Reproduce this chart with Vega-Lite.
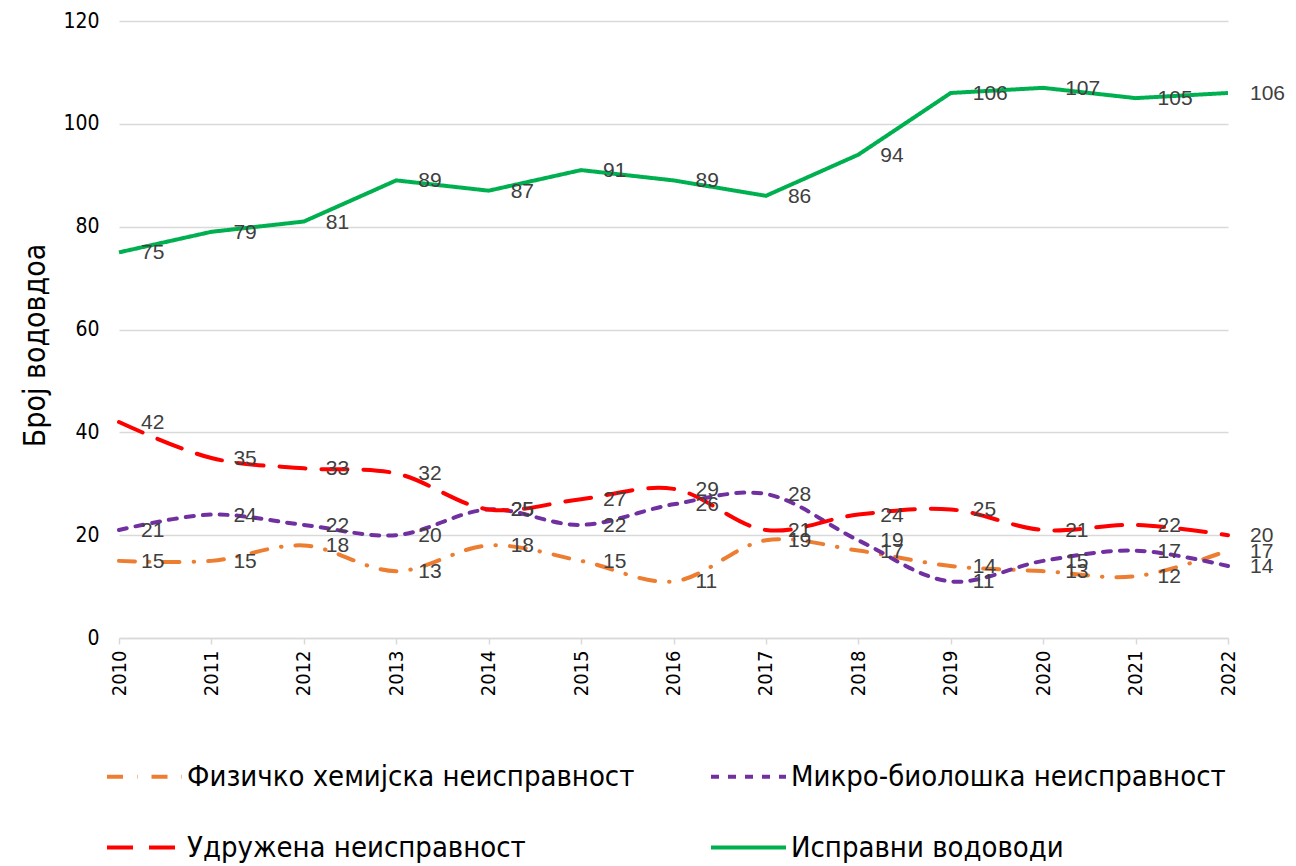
{
  "$schema": "https://vega.github.io/schema/vega-lite/v6.json",
  "autosize": {"type": "none"},
  "width": 1109,
  "height": 617,
  "padding": {"left": 119, "top": 21, "right": 68, "bottom": 228},
  "background": "white",
  "config": {"view": {"stroke": null}},
  "data": {"values": [
    {"year": "2010", "s": "Физичко хемијска неисправност", "v": 15},
    {"year": "2011", "s": "Физичко хемијска неисправност", "v": 15},
    {"year": "2012", "s": "Физичко хемијска неисправност", "v": 18},
    {"year": "2013", "s": "Физичко хемијска неисправност", "v": 13},
    {"year": "2014", "s": "Физичко хемијска неисправност", "v": 18},
    {"year": "2015", "s": "Физичко хемијска неисправност", "v": 15},
    {"year": "2016", "s": "Физичко хемијска неисправност", "v": 11},
    {"year": "2017", "s": "Физичко хемијска неисправност", "v": 19},
    {"year": "2018", "s": "Физичко хемијска неисправност", "v": 17},
    {"year": "2019", "s": "Физичко хемијска неисправност", "v": 14},
    {"year": "2020", "s": "Физичко хемијска неисправност", "v": 13},
    {"year": "2021", "s": "Физичко хемијска неисправност", "v": 12},
    {"year": "2022", "s": "Физичко хемијска неисправност", "v": 17},
    {"year": "2010", "s": "Микро-биолошка неисправност", "v": 21},
    {"year": "2011", "s": "Микро-биолошка неисправност", "v": 24},
    {"year": "2012", "s": "Микро-биолошка неисправност", "v": 22},
    {"year": "2013", "s": "Микро-биолошка неисправност", "v": 20},
    {"year": "2014", "s": "Микро-биолошка неисправност", "v": 25},
    {"year": "2015", "s": "Микро-биолошка неисправност", "v": 22},
    {"year": "2016", "s": "Микро-биолошка неисправност", "v": 26},
    {"year": "2017", "s": "Микро-биолошка неисправност", "v": 28},
    {"year": "2018", "s": "Микро-биолошка неисправност", "v": 19},
    {"year": "2019", "s": "Микро-биолошка неисправност", "v": 11},
    {"year": "2020", "s": "Микро-биолошка неисправност", "v": 15},
    {"year": "2021", "s": "Микро-биолошка неисправност", "v": 17},
    {"year": "2022", "s": "Микро-биолошка неисправност", "v": 14},
    {"year": "2010", "s": "Удружена неисправност", "v": 42},
    {"year": "2011", "s": "Удружена неисправност", "v": 35},
    {"year": "2012", "s": "Удружена неисправност", "v": 33},
    {"year": "2013", "s": "Удружена неисправност", "v": 32},
    {"year": "2014", "s": "Удружена неисправност", "v": 25},
    {"year": "2015", "s": "Удружена неисправност", "v": 27},
    {"year": "2016", "s": "Удружена неисправност", "v": 29},
    {"year": "2017", "s": "Удружена неисправност", "v": 21},
    {"year": "2018", "s": "Удружена неисправност", "v": 24},
    {"year": "2019", "s": "Удружена неисправност", "v": 25},
    {"year": "2020", "s": "Удружена неисправност", "v": 21},
    {"year": "2021", "s": "Удружена неисправност", "v": 22},
    {"year": "2022", "s": "Удружена неисправност", "v": 20},
    {"year": "2010", "s": "Исправни водоводи", "v": 75},
    {"year": "2011", "s": "Исправни водоводи", "v": 79},
    {"year": "2012", "s": "Исправни водоводи", "v": 81},
    {"year": "2013", "s": "Исправни водоводи", "v": 89},
    {"year": "2014", "s": "Исправни водоводи", "v": 87},
    {"year": "2015", "s": "Исправни водоводи", "v": 91},
    {"year": "2016", "s": "Исправни водоводи", "v": 89},
    {"year": "2017", "s": "Исправни водоводи", "v": 86},
    {"year": "2018", "s": "Исправни водоводи", "v": 94},
    {"year": "2019", "s": "Исправни водоводи", "v": 106},
    {"year": "2020", "s": "Исправни водоводи", "v": 107},
    {"year": "2021", "s": "Исправни водоводи", "v": 105},
    {"year": "2022", "s": "Исправни водоводи", "v": 106}
  ]},
  "encoding": {
    "x": {
      "field": "year", "type": "ordinal",
      "scale": {"type": "point", "padding": 0},
      "axis": {
        "title": null, "labelAngle": -90, "labelFont": "Liberation Sans Narrow, DejaVu Sans Condensed, Roboto Condensed, Roboto",
        "labelFontSize": 20, "labelColor": "#000000", "labelPadding": 6,
        "domainColor": "#d9d9d9", "domainWidth": 1.5, "tickColor": "#d9d9d9", "tickSize": 6, "tickWidth": 1.5,
        "grid": false
      }
    },
    "y": {
      "field": "v", "type": "quantitative",
      "scale": {"domain": [0, 120]},
      "axis": {
        "title": "Број водовдоа", "titleFont": "Liberation Sans Narrow, DejaVu Sans Condensed, Roboto Condensed, Roboto", "titleFontSize": 30,
        "titleFontWeight": "normal", "titleColor": "#000000", "titlePadding": 12, "titleY": 324,
        "values": [0, 20, 40, 60, 80, 100, 120],
        "labelFont": "Liberation Sans Narrow, DejaVu Sans Condensed, Roboto Condensed, Roboto", "labelFontSize": 21, "labelColor": "#000000",
        "labelPadding": 20, "ticks": false, "domain": false,
        "gridColor": "#d9d9d9", "gridWidth": 1.5
      }
    }
  },
  "layer": [
    {
      "transform": [{"filter": "datum.s !== 'Исправни водоводи'"}],
      "mark": {"type": "line", "strokeWidth": 4, "strokeCap": "round", "interpolate": "catmull-rom"},
      "encoding": {
        "color": {
          "field": "s", "type": "nominal",
          "scale": {
            "domain": ["Физичко хемијска неисправност", "Микро-биолошка неисправност", "Удружена неисправност", "Исправни водоводи"],
            "range": ["#ED7D31", "#7030A0", "#FF0000", "#00B050"]
          },
          "legend": {
            "title": null, "orient": "none", "legendX": -14, "legendY": 716, "direction": "horizontal",
            "columns": 2, "columnPadding": 68, "rowPadding": 16,
            "symbolType": "stroke", "symbolSize": 5625, "symbolStrokeWidth": 4,
            "labelFont": "Liberation Sans Narrow, DejaVu Sans Condensed, Roboto Condensed, Roboto", "labelFontSize": 29, "labelColor": "#000000",
            "labelOffset": 3, "labelLimit": 800, "symbolOpacity": 1
          }
        },
        "strokeDash": {
          "field": "s", "type": "nominal",
          "scale": {
            "domain": ["Физичко хемијска неисправност", "Микро-биолошка неисправност", "Удружена неисправност", "Исправни водоводи"],
            "range": [[16, 14, 0.5, 14], [8, 9], [26, 16], [1, 0]]
          }
        }
      }
    },
    {
      "transform": [{"filter": "datum.s === 'Исправни водоводи'"}],
      "mark": {"type": "line", "strokeWidth": 4, "strokeCap": "butt"},
      "encoding": {
        "color": {"field": "s", "type": "nominal"},
        "strokeDash": {"field": "s", "type": "nominal"}
      }
    },
    {
      "mark": {"type": "text", "align": "left", "baseline": "middle", "dx": 22, "dy": 1,
               "font": "Liberation Sans", "fontSize": 21, "color": "#404040"},
      "encoding": {"text": {"field": "v", "type": "quantitative"}}
    }
  ]
}
